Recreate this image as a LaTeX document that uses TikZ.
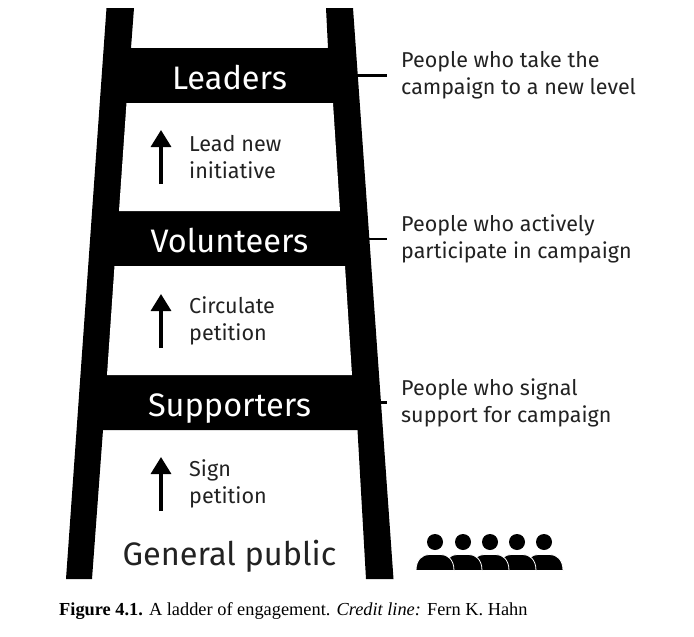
\documentclass[tikz,border=0pt]{standalone}
\usepackage{fontspec}
\setmainfont{Fira Sans}
\newfontfamily\capfont{Liberation Serif}
\usepackage{tikz}
\usetikzlibrary{positioning,arrows.meta,calc}
\definecolor{ink}{HTML}{222222}

\begin{document}
\begin{tikzpicture}[x=1pt,y=-1pt,
  rung/.style={font=\fontsize{32.5}{36}\selectfont,text=white,inner sep=0pt,anchor=base},
  ground/.style={rung,text=ink},
  stepnote/.style={font=\fontsize{21.6}{27}\selectfont,align=left,anchor=west,text=ink,inner sep=0pt},
  desc/.style={font=\fontsize{21.5}{27}\selectfont,align=left,anchor=west,text=ink,inner sep=0pt},
  tick/.style={draw=black,line width=2.2pt},
  climb/.style={-{Triangle[length=17pt,width=20pt]},line width=3.2pt,black}]
\useasboundingbox (0,0) rectangle (694,637);
% rails and rungs
\fill[black] (106.5,8) -- (134,8) -- (131,48) -- (328,48) -- (326,8) -- (353,8) -- (393.5,579) -- (366,579)
  -- (357.5,430) -- (103,430) -- (92,579) -- (66,579) -- cycle;
\fill[white] (126.5,103) -- (333,103) -- (340,211) -- (119,211) -- cycle;
\fill[white] (114.5,266) -- (345,266) -- (352,375) -- (107,375) -- cycle;
% rung labels
\node[rung] (leaders) at (229.5,89) {Leaders};
\node[rung] (volunteers) at (229.5,252) {Volunteers};
\node[rung] (supporters) at (229.5,416) {Supporters};
\node[ground] (public) at (229.5,565) {General public};
% steps between rungs
\node[stepnote] (lead) at (189,157) {Lead new\\initiative};
\node[stepnote] (circulate) at (189,320.5) {Circulate\\petition};
\node[stepnote] (sign) at (189,484) {Sign\\petition};
\foreach \n/\y in {lead/184,circulate/348,sign/511}{
  \coordinate (\n foot) at (161,\y);
  \coordinate (\n tip) at (161,\y-54);
  \draw[climb] (\n foot) -- (\n tip);}
% right hand side
\node[desc] (descleaders) at (401,75.5) {People who take the\\campaign to a new level};
\node[desc] (descvolunteers) at (401,239) {People who actively\\participate in campaign};
\node[desc] (descsupporters) at (401,402.5) {People who signal\\support for campaign};
\foreach \n/\x in {leaders/357,volunteers/369,supporters/380}{
  \coordinate (\n rail) at (\x,0 |- desc\n.west);
  \draw[tick] (\n rail) -- ([xshift=-14pt]desc\n.west);}
% crowd
\foreach \x in {544,517,490,463,435}{
  \fill[black] (\x,542) circle (8);
  \filldraw[fill=black,draw=white,line width=0.8pt] (\x-19,570.5) .. controls (\x-19,559) and (\x-12,554.5) .. (\x-6,554.5)
    -- (\x+6,554.5) .. controls (\x+12,554.5) and (\x+19,559) .. (\x+19,570.5) -- cycle;}
% caption
\node[font=\capfont\fontsize{18.35}{22}\selectfont,anchor=west,inner sep=0pt,text=black] (caption) at (59,611) {\textbf{Figure 4.1.} A ladder of engagement. \textit{Credit line:} Fern K. Hahn};
\end{tikzpicture}
\end{document}
